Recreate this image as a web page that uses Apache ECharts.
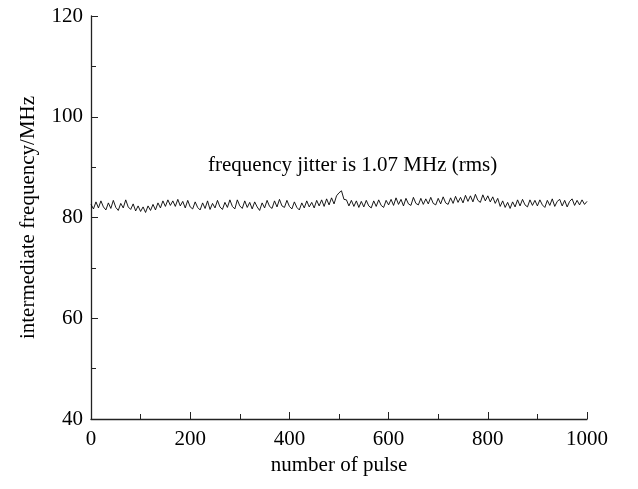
<!DOCTYPE html>
<html lang="en">
<head>
    <meta charset="UTF-8">
    <title>frequency jitter</title>
    <script src="https://cdn.jsdelivr.net/npm/echarts@6/dist/echarts.min.js"></script>
    <style>
        html, body { margin: 0; padding: 0; background: #fff; }
    </style>
</head>
<body>
<div id="main" style="height: 489px;width: 638px"></div>
<script type="text/javascript">
    // pulse number step between samples
    var pulseStep = 5;
    // intermediate frequency (MHz)
    var freq0 = [82.6, 81.7, 83.1, 81.9, 83.3, 82.1, 81.5, 82.9, 81.8, 83.4, 82.0, 81.4, 82.8, 81.9, 83.5, 82.1, 81.6, 82.7, 81.3, 82.3];
    var freq1 = [81.2, 82.1, 81.0, 82.3, 81.4, 82.6, 81.5, 82.9, 81.9, 83.3, 82.2, 83.5, 82.4, 83.3, 82.2, 83.6, 82.3, 83.2, 81.9, 83.4];
    var freq2 = [82.1, 81.7, 83.1, 82.0, 81.5, 82.9, 81.8, 83.3, 81.6, 82.8, 81.9, 83.4, 82.1, 81.6, 83.0, 82.0, 83.5, 82.2, 81.7, 83.5];
    var freq3 = [82.3, 81.8, 83.3, 82.0, 83.0, 81.7, 83.1, 82.1, 81.4, 82.9, 81.9, 83.4, 82.2, 81.8, 83.3, 82.1, 83.6, 82.3, 82.0, 83.4];
    var freq4 = [82.2, 81.7, 83.1, 82.0, 81.5, 82.9, 81.9, 83.3, 82.1, 83.0, 81.9, 83.4, 82.3, 83.5, 82.2, 83.7, 82.5, 83.9, 82.7, 84.3];
    var freq5 = [84.9, 85.3, 83.6, 83.5, 82.3, 83.4, 82.2, 83.3, 82.0, 83.2, 82.1, 83.4, 82.3, 81.9, 83.3, 82.2, 83.5, 82.4, 82.0, 83.4];
    var freq6 = [82.5, 83.6, 82.4, 83.9, 82.6, 83.6, 82.3, 83.8, 82.7, 82.4, 84.0, 82.8, 82.5, 83.8, 82.6, 83.7, 82.7, 84.0, 82.8, 82.5];
    var freq7 = [83.8, 82.7, 84.1, 82.9, 82.6, 83.9, 82.8, 84.2, 83.0, 84.0, 82.9, 84.4, 83.2, 84.3, 83.1, 84.6, 83.4, 83.0, 84.5, 83.3];
    var freq8 = [84.3, 83.1, 84.1, 82.8, 83.8, 82.2, 83.3, 82.0, 83.0, 81.8, 83.1, 82.1, 83.5, 82.3, 83.6, 82.5, 82.1, 83.5, 82.4, 83.4];
    var freq9 = [82.3, 83.5, 82.5, 82.0, 83.4, 82.4, 83.7, 82.2, 83.2, 83.6, 82.3, 83.4, 82.1, 83.2, 83.7, 82.4, 83.4, 82.5, 83.5, 82.6, 83.2];
    var xTicks = [0, 200, 400, 600, 800, 1000];
    var yTicks = [40, 60, 80, 100, 120];
    var note = 'frequency jitter is 1.07 MHz (rms)';

    var freq = [].concat(freq0, freq1, freq2, freq3, freq4, freq5, freq6, freq7, freq8, freq9);
    var points = freq.map(function (v, i) { return [i * pulseStep, v]; });

    var font = 'Liberation Serif';
    var myEcharts = echarts.init(document.getElementById("main"));
    var option = {
        animation: false,
        backgroundColor: '#fff',
        textStyle: {fontFamily: font},
        grid: {left: 91, right: 51, top: 16, bottom: 70},
        graphic: [{
            type: 'text',
            left: 208,
            top: 155,
            style: {text: note, font: '21px "Liberation Serif"', fill: '#000'}
        }],
        xAxis: {
            type: 'value',
            min: xTicks[0],
            max: xTicks[xTicks.length - 1],
            interval: 200,
            name: 'number of pulse',
            nameLocation: 'middle',
            nameGap: 36,
            nameTextStyle: {fontSize: 21, color: '#000', fontFamily: font},
            axisLine: {lineStyle: {color: '#222', width: 1.3}},
            axisTick: {inside: true, length: 7, lineStyle: {color: '#222'}},
            minorTick: {show: true, splitNumber: 2, length: 5, lineStyle: {color: '#222'}},
            splitLine: {show: false},
            axisLabel: {fontSize: 21, color: '#000', margin: 10, fontFamily: font,
                formatter: function (v) { return String(v); }}
        },
        yAxis: {
            type: 'value',
            min: yTicks[0],
            max: yTicks[yTicks.length - 1],
            interval: 20,
            name: 'intermediate frequency/MHz',
            nameLocation: 'middle',
            nameGap: 52,
            nameTextStyle: {fontSize: 21, color: '#000', fontFamily: font},
            axisLine: {show: true, lineStyle: {color: '#222', width: 1.3}},
            axisTick: {show: true, inside: true, length: 7, lineStyle: {color: '#222'}},
            minorTick: {show: true, splitNumber: 2, length: 5, lineStyle: {color: '#222'}},
            splitLine: {show: false},
            axisLabel: {fontSize: 21, color: '#000', margin: 8, fontFamily: font}
        },
        series: [{
            type: 'line',
            data: points,
            symbol: 'none',
            lineStyle: {color: '#000', width: 0.9}
        }]
    };
    myEcharts.setOption(option);
</script>
</body>
</html>
